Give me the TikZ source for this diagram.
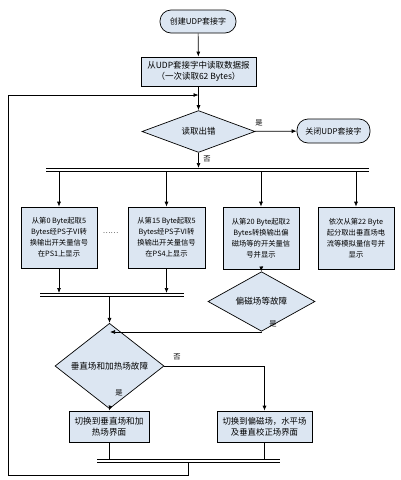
\documentclass[tikz,border=0pt]{standalone}
\usepackage{fontspec}
\setmainfont{Noto Sans CJK SC}
\usetikzlibrary{shapes.geometric,arrows.meta}
\definecolor{boxblue}{RGB}{220,230,242}
\newcommand{\fsz}[1]{\fontsize{#1}{11}\selectfont}
\begin{document}
\begin{tikzpicture}[x=1pt,y=-1pt,
        font=\fsz{7.3},
        line width=0.7pt,
        >={Latex[length=5pt,width=4pt]},
        term/.style={draw, fill=boxblue, rounded corners=11pt, inner sep=0pt, font=\fsz{8}},
        proc/.style={draw, fill=boxblue, align=center, inner sep=0pt},
        dec/.style={draw, fill=boxblue, diamond, inner sep=0pt, font=\fsz{8.6}},
        barnode/.style={minimum height=3pt, inner sep=0pt, outer sep=0pt}]
        \useasboundingbox (0,0) rectangle (400,480);

        % start, read and test
        \node[term, minimum width=76pt, minimum height=23pt] (start) at (198,21.5) {创建UDP套接字};
        \node[proc, minimum width=115pt, minimum height=29pt, font=\fsz{8.5}] (read) at (198.5,71.5) {从UDP套接字中读取数据报\\（一次读取62 Bytes）};
        \node[dec, minimum width=113pt, minimum height=37pt, font=\fsz{8.5}] (err) at (198.5,131.5) {读取出错};
        \node[term, minimum width=73pt, minimum height=24pt] (close) at (333.5,131) {关闭UDP套接字};
        \coordinate (loop) at (198.5,95);

        % bars
        \node[barnode, minimum width=323pt] (bar1) at (207.5,169.5) {};
        \node[barnode, minimum width=144pt] (bar2) at (112,294.5) {};
        \node[barnode, minimum width=183pt] (bar3) at (188.5,461) {};
        \foreach \b in {bar1,bar2,bar3}
            \draw (\b.north west) -- (\b.north east) (\b.south west) -- (\b.south east);

        % decoding boxes
        \node[proc, minimum width=76pt, minimum height=61pt] (ps1) at (59,237.5) {从第0 Byte起取5\\Bytes经PS子VI转\\换输出开关量信号\\在PS1上显示};
        \node (dots) at (110.5,233) {……};
        \node[proc, minimum width=77pt, minimum height=61pt] (ps4) at (166.5,237.5) {从第15 Byte起取5\\Bytes经PS子VI转\\换输出开关量信号\\在PS4上显示};
        \node[proc, minimum width=76pt, minimum height=62pt] (bias) at (261,238) {从第20 Byte起取2\\Bytes转换输出偏\\磁场等的开关量信\\号并显示};
        \node[proc, minimum width=76pt, minimum height=62pt] (anal) at (356,238) {依次从第22 Byte\\起分取出垂直场电\\流等模拟量信号并\\显示};

        % faults
        \node[dec, minimum width=107pt, minimum height=35pt] (mag) at (261.5,301.5) {偏磁场等故障};
        \node[dec, minimum width=109pt, minimum height=42pt] (vert) at (109.5,366) {垂直场和加热场故障};
        \coordinate (join) at (110,332);
        \node[proc, minimum width=80pt, minimum height=31pt, font=\fsz{8.6}] (sw1) at (109,426.5) {切换到垂直场和加\\热场界面};
        \node[proc, minimum width=95pt, minimum height=31pt, font=\fsz{8.4}] (sw2) at (264.5,426.5) {切换到偏磁场，水平场\\及垂直校正场界面};
        \coordinate (back1) at (8,475);

        % connectors
        \draw[->] (start) -- (read);
        \draw[->] (read) -- (err);
        \draw[->] (err) -- (close);
        \node at (259,123) {是};
        \draw[->] (err.south) -- (err.south |- bar1.north);
        \node at (207,159) {否};
        \foreach \b in {ps1,ps4,bias,anal}
            \draw[->] (\b.north |- bar1.south) -- (\b.north);
        \draw[->] (ps1) -- (ps1 |- bar2.north);
        \draw[->] (ps4) -- (ps4 |- bar2.north);
        \draw[->] (bias) -- (mag);
        \draw[->] (mag.south) |- (join);
        \node at (273,324) {是};
        \draw[->] (vert.north |- bar2.south) -- (vert.north);
        \draw[->] (vert.east) -| (sw2.north);
        \node at (177,357) {否};
        \draw[->] (vert.south) -- (sw1.north);
        \node at (119,393) {是};
        \draw (sw1.south) -- (sw1.south |- bar3.north);
        \draw (sw2.south) -- (sw2.south |- bar3.north);
        \draw[->] (bar3.south) |- (back1) |- (loop);
    \end{tikzpicture}
\end{document}
